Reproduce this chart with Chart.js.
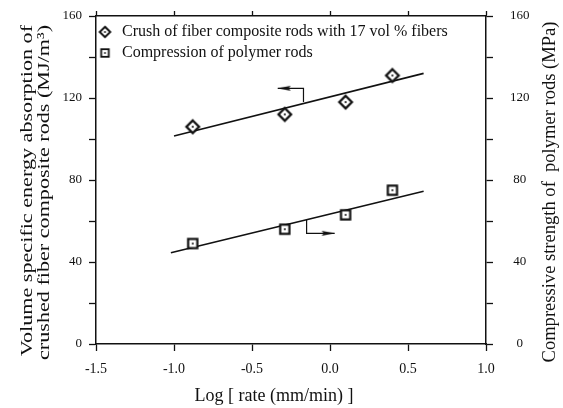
<!DOCTYPE html>
<html><head><meta charset="utf-8">
<script src="https://cdn.jsdelivr.net/npm/chart.js@4.4.1/dist/chart.umd.min.js"></script>
<style>html,body{margin:0;padding:0;background:#fff;}#wrap{width:563px;height:408px;}</style>
</head><body><div id="wrap"><canvas id="c" width="563" height="408"></canvas></div>
<script>
// ---- data ----
const logRate = [-0.88, -0.29, 0.10, 0.40];
const crushEnergy = [106, 112, 118, 131];          // MJ/m^3 (left axis)
const compressiveStrength = [49, 56, 63, 75];      // MPa (right axis)
const crushFitX = [-1.0, 0.6];
const crushFitY = [101.5, 132];
const compFitX = [-1.02, 0.6];
const compFitY = [44.5, 74.5];
const crushArrowX = [-0.17, -0.17, -0.335];
const crushArrowY = [118, 124.7, 124.7];
const compArrowX = [-0.15, -0.15, 0.03];
const compArrowY = [60.5, 54, 54];
const xRange = [-1.5, 1.0];
const yRange = [0, 160];
const legendLabels = ['Crush of fiber composite rods with 17 vol % fibers', 'Compression of polymer rods'];
const xTitle = 'Log [ rate (mm/min) ]';
const yLeftTitle = ['Volume specific energy absorption of', 'crushed fiber composite rods (MJ/m\u00b3)'];
const yRightTitle = 'Compressive strength of  polymer rods (MPa)';

const INK = '#111';
const FONT = 'Liberation Serif';

function mk(w, h, draw) { const c = document.createElement('canvas'); c.width = w; c.height = h; const g = c.getContext('2d'); draw(g); return c; }
function diamond(w, h, cx, cy, r, lw, dot) {
  return mk(w, h, g => {
    g.beginPath(); g.moveTo(cx, cy - r); g.lineTo(cx + r, cy); g.lineTo(cx, cy + r); g.lineTo(cx - r, cy); g.closePath();
    g.fillStyle = '#fff'; g.fill(); g.lineWidth = lw; g.strokeStyle = INK; g.stroke();
    g.beginPath(); g.arc(cx, cy, dot, 0, Math.PI * 2); g.fillStyle = INK; g.fill();
  });
}
function square(w, h, cx, cy, r, lw, dot) {
  return mk(w, h, g => {
    g.fillStyle = '#fff'; g.fillRect(cx - r, cy - r, 2 * r, 2 * r);
    g.lineWidth = lw; g.strokeStyle = INK; g.strokeRect(cx - r, cy - r, 2 * r, 2 * r);
    g.beginPath(); g.arc(cx, cy, dot, 0, Math.PI * 2); g.fillStyle = INK; g.fill();
  });
}
const diamondPt = diamond(18, 18, 9, 9, 6.3, 2.3, 1.1);
const squarePt = square(14, 14, 7, 7, 4.6, 2.2, 1.0);
const diamondLeg = diamond(20, 16, 7.5, 8, 5.2, 2.0, 1.0);
const squareLeg = square(20, 16, 7.5, 8, 3.8, 1.8, 0.9);
const arrowHead = mk(28, 7, g => { g.beginPath(); g.moveTo(1, 1); g.lineTo(14, 3.5); g.lineTo(1, 6); g.lineTo(3, 3.5); g.closePath(); g.fillStyle = INK; g.fill(); });

// axis titles placed like the original figure (left title lines end-aligned at the top, right title reads upward)
const axisTitlePlugin = {
  id: 'axisTitles',
  afterDraw(chart) {
    const ctx = chart.ctx; const s = chart.options.scales;
    ctx.save();
    ctx.fillStyle = INK; ctx.textBaseline = 'middle';
    // bottom title
    ctx.font = '18px "' + FONT + '"'; ctx.textAlign = 'center';
    ctx.fillText(s.x.title.text, 274, 396);
    // left title (two lines)
    ctx.font = '18px "' + FONT + '"'; ctx.textAlign = 'right';
    s.y.title.text.forEach((t, i) => {
      ctx.save(); ctx.translate(27 + i * 17.5, 25); ctx.rotate(-Math.PI / 2); ctx.scale(1.23, 0.96); ctx.fillText(t, 0, 0); ctx.restore();
    });
    // right title
    ctx.save();
    ctx.font = '18px "' + FONT + '"'; ctx.textAlign = 'center';
    ctx.translate(550, 192); ctx.rotate(-Math.PI / 2); ctx.scale(1.03, 1); ctx.fillText(s.y2.title.text, 0, 0);
    ctx.restore();
    ctx.restore();
  }
};

const axisBorder = { display: true, color: INK, width: 1.5 };
const gridOpts = (len) => ({ drawOnChartArea: false, drawTicks: true, tickLength: len, tickColor: INK, tickWidth: 1.3, color: INK });
const fixV = (w) => (s) => { s.width = w; s.paddingTop = 0; s.paddingBottom = 0; };

new Chart(document.getElementById('c'), {
  type: 'scatter',
  data: {
    datasets: [
      { label: legendLabels[0], data: logRate.map((x, i) => ({ x, y: crushEnergy[i] })), yAxisID: 'y',
        pointStyle: diamondPt, pointRadius: 6, borderColor: INK, backgroundColor: '#fff' },
      { label: legendLabels[1], data: logRate.map((x, i) => ({ x, y: compressiveStrength[i] })), yAxisID: 'y2',
        pointStyle: squarePt, pointRadius: 5, borderColor: INK, backgroundColor: '#fff' },
      { label: 'fit1', data: crushFitX.map((x, i) => ({ x, y: crushFitY[i] })), yAxisID: 'y', showLine: true,
        borderColor: INK, borderWidth: 1.6, pointRadius: 0, order: 5 },
      { label: 'fit2', data: compFitX.map((x, i) => ({ x, y: compFitY[i] })), yAxisID: 'y2', showLine: true,
        borderColor: INK, borderWidth: 1.6, pointRadius: 0, order: 5 },
      { label: 'arrow1', data: crushArrowX.map((x, i) => ({ x, y: crushArrowY[i] })), yAxisID: 'y', showLine: true,
        borderColor: INK, borderWidth: 1.2, pointRadius: [0, 0, 4], pointStyle: arrowHead, pointRotation: 180, order: 5 },
      { label: 'arrow2', data: compArrowX.map((x, i) => ({ x, y: compArrowY[i] })), yAxisID: 'y2', showLine: true,
        borderColor: INK, borderWidth: 1.2, pointRadius: [0, 0, 4], pointStyle: arrowHead, pointRotation: 0, order: 5 }
    ]
  },
  options: {
    responsive: false,
    animation: false,
    events: [],
    layout: { padding: 0 },
    plugins: {
      tooltip: { enabled: false },
      legend: {
        position: 'chartArea', align: 'start',
        title: { display: true, text: '', font: { size: 10, lineHeight: 1.2 }, padding: { top: 3, bottom: 4 } },
        labels: {
          usePointStyle: true, pointStyleWidth: 13, padding: 5, color: INK,
          font: { family: FONT, size: 16 },
          filter: (item) => item.datasetIndex < 2,
          generateLabels(chart) {
            const items = Chart.defaults.plugins.legend.labels.generateLabels(chart);
            return items.map(it => Object.assign(it, { pointStyle: it.datasetIndex === 0 ? diamondLeg : squareLeg }));
          }
        }
      }
    },
    scales: {
      x: {
        type: 'linear', position: 'bottom', min: xRange[0], max: xRange[1],
        afterFit: s => { s.height = 64; },
        border: axisBorder, grid: gridOpts(7),
        ticks: { stepSize: 0.5, padding: 10, color: INK, font: { family: FONT, size: 14 }, maxRotation: 0, callback: v => Number(v).toFixed(1) },
        title: { display: false, text: xTitle }
      },
      xTop: {
        type: 'linear', position: 'top', min: xRange[0], max: xRange[1],
        afterFit: s => { s.height = 16; },
        border: axisBorder, grid: gridOpts(5),
        ticks: { display: false, stepSize: 0.5 }
      },
      y: {
        type: 'linear', position: 'left', min: yRange[0], max: yRange[1],
        afterFit: fixV(96),
        border: axisBorder, grid: gridOpts(7),
        ticks: { stepSize: 20, padding: 7, color: INK, font: { family: FONT, size: 13 }, callback: v => (v % 40 === 0 ? String(v) : '') },
        title: { display: false, text: yLeftTitle }
      },
      y2: {
        type: 'linear', position: 'right', min: yRange[0], max: yRange[1],
        afterFit: fixV(77),
        border: axisBorder, grid: gridOpts(7),
        ticks: { stepSize: 20, padding: 17, crossAlign: 'center', color: INK, font: { family: FONT, size: 13 }, callback: v => (v % 40 === 0 ? String(v) : '') },
        title: { display: false, text: yRightTitle }
      }
    }
  },
  plugins: [axisTitlePlugin]
});
</script></body></html>
